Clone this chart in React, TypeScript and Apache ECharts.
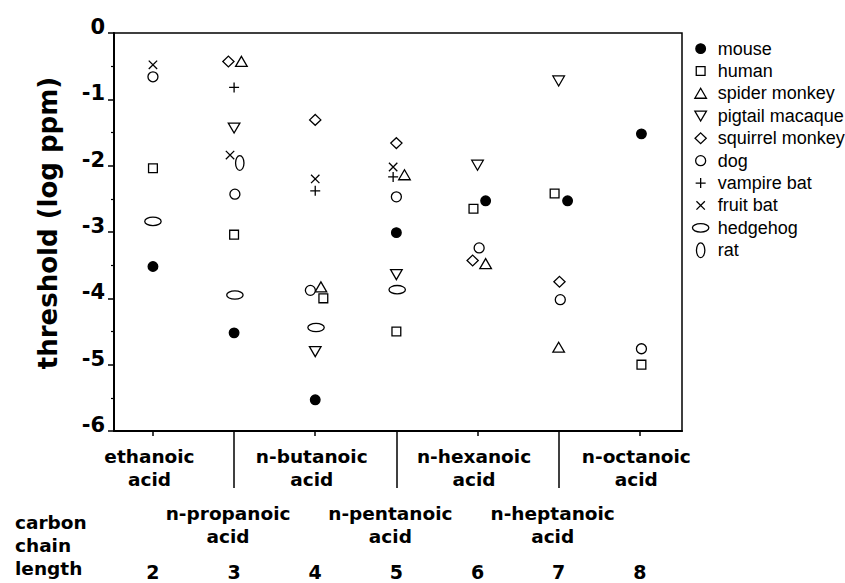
import React, { useEffect, useRef } from 'react';
import * as echarts from 'echarts';

// ---- data ----
const carbonChainLength = [2, 3, 4, 5, 6, 7, 8];
const acidNames = [
  'ethanoic acid',
  'n-propanoic acid',
  'n-butanoic acid',
  'n-pentanoic acid',
  'n-hexanoic acid',
  'n-heptanoic acid',
  'n-octanoic acid',
];
const evenCarbons = [2, 4, 6, 8];
const oddCarbons = [3, 5, 7];

const mouse = [[2, -3.52], [3, -4.52], [4, -5.53], [5, -3.01], [6.1, -2.53], [7.11, -2.53], [8.02, -1.52]];
const human = [[2, -2.04], [3, -3.04], [4.1, -4.0], [5, -4.5], [5.95, -2.65], [6.95, -2.42], [8.02, -5.0]];
const spiderMonkey = [[3.09, -0.43], [4.07, -3.83], [5.1, -2.14], [6.1, -3.48], [7, -4.74]];
const pigtailMacaque = [[3, -1.43], [4, -4.8], [5, -3.64], [6, -1.99], [7, -0.72]];
const squirrelMonkey = [[2.93, -0.43], [4, -1.31], [5, -1.66], [5.94, -3.43], [7.01, -3.75]];
const dog = [[2, -0.66], [3.01, -2.43], [3.94, -3.88], [5, -2.47], [6.02, -3.24], [7.02, -4.02], [8.02, -4.76]];
const vampireBat = [[3, -0.82], [4, -2.38], [4.96, -2.17]];
const fruitBat = [[2, -0.48], [2.95, -1.84], [4, -2.2], [4.96, -2.02]];
const hedgehog = [[2, -2.84], [3.01, -3.95], [4.01, -4.44], [5.01, -3.87]];
const rat = [[3.07, -1.96]];

// ---- symbols (drawn in a 20x20 box so sizes stay consistent) ----
const BOX = 'M0,0 M20,20 ';
const SYM = {
  filledCircle: 'path://' + BOX + 'M5.2,10 A4.8,4.8 0 1,1 14.8,10 A4.8,4.8 0 1,1 5.2,10 Z',
  square: 'path://' + BOX + 'M5.6,5.6 L14.4,5.6 L14.4,14.4 L5.6,14.4 Z',
  triUp: 'path://' + BOX + 'M10,4.8 L15.8,14.8 L4.2,14.8 Z',
  triDown: 'path://' + BOX + 'M4.2,5.2 L15.8,5.2 L10,15.2 Z',
  diamond: 'path://' + BOX + 'M10,4.6 L15.6,10 L10,15.4 L4.4,10 Z',
  circle: 'path://' + BOX + 'M5,10 A5,5 0 1,1 15,10 A5,5 0 1,1 5,10 Z',
  plus: 'path://' + BOX + 'M5,10 L15,10 M10,5 L10,15',
  cross: 'path://' + BOX + 'M5.8,5.8 L14.2,14.2 M14.2,5.8 L5.8,14.2',
  hEllipse: 'path://' + BOX + 'M1.8,10 A8.2,4.2 0 1,1 18.2,10 A8.2,4.2 0 1,1 1.8,10 Z',
  vEllipse: 'path://' + BOX + 'M5.8,10 A4.2,7.4 0 1,1 14.2,10 A4.2,7.4 0 1,1 5.8,10 Z',
};

const BOLD = 'DejaVu Sans';

const speciesSeries = [
  { name: 'mouse', data: mouse, symbol: SYM.filledCircle, fill: '#000' },
  { name: 'human', data: human, symbol: SYM.square, fill: '#fff' },
  { name: 'spider monkey', data: spiderMonkey, symbol: SYM.triUp, fill: '#fff' },
  { name: 'pigtail macaque', data: pigtailMacaque, symbol: SYM.triDown, fill: '#fff' },
  { name: 'squirrel monkey', data: squirrelMonkey, symbol: SYM.diamond, fill: '#fff' },
  { name: 'dog', data: dog, symbol: SYM.circle, fill: '#fff' },
  { name: 'vampire bat', data: vampireBat, symbol: SYM.plus, fill: '#fff' },
  { name: 'fruit bat', data: fruitBat, symbol: SYM.cross, fill: '#fff' },
  { name: 'hedgehog', data: hedgehog, symbol: SYM.hEllipse, fill: '#fff' },
  { name: 'rat', data: rat, symbol: SYM.vEllipse, fill: '#fff' },
];

const acidLabel = (v: number) => {
  const i = carbonChainLength.indexOf(Math.round(v));
  return i >= 0 ? acidNames[i].replace(' ', '\n') : '';
};

const X_MIN = 1.52;
const X_MAX = 8.52;

const option: any = {
  animation: false,
  grid: {
    left: 114,
    right: 163,
    top: 33,
    bottom: 151,
    show: true,
    borderColor: '#000',
    borderWidth: 1.5,
    backgroundColor: 'transparent',
  },
  title: {
    text: 'carbon\nchain\nlength',
    left: 15,
    top: 511,
    padding: 0,
    textStyle: { fontFamily: BOLD, fontWeight: 'bold', fontSize: 18.5, lineHeight: 23, color: '#000' },
  },
  legend: {
    orient: 'vertical',
    left: 690,
    top: 38,
    padding: 0,
    itemWidth: 20,
    itemHeight: 20,
    itemGap: 1.1,
    selectedMode: false,
    itemStyle: { borderWidth: 1.3 },
    textStyle: { fontFamily: 'Liberation Sans', fontSize: 18, color: '#000', lineHeight: 20, padding: [0, 0, 0, 2] },
    data: speciesSeries.map((s) => s.name),
  },
  xAxis: [
    {
      type: 'value',
      min: X_MIN,
      max: X_MAX,
      position: 'bottom',
      axisLine: { show: true, onZero: false, lineStyle: { color: '#000', width: 2 } },
      axisTick: { show: true, customValues: evenCarbons, length: 5, lineStyle: { color: '#000', width: 1.5 } },
      axisLabel: {
        customValues: evenCarbons,
        formatter: acidLabel,
        margin: 14,
        padding: [0, 7, 0, 0],
        fontFamily: BOLD,
        fontWeight: 'bold',
        fontSize: 18.5,
        lineHeight: 23,
        color: '#000',
      },
      splitLine: { show: false },
    },
    {
      type: 'value',
      min: X_MIN,
      max: X_MAX,
      position: 'bottom',
      axisLine: { show: false, onZero: false },
      axisTick: { show: true, customValues: oddCarbons, length: 57, lineStyle: { color: '#000', width: 1.5 } },
      axisLabel: {
        customValues: oddCarbons,
        formatter: acidLabel,
        margin: 70.5,
        padding: [0, 12, 0, 0],
        fontFamily: BOLD,
        fontWeight: 'bold',
        fontSize: 18.5,
        lineHeight: 23,
        color: '#000',
      },
      splitLine: { show: false },
    },
    {
      type: 'value',
      min: X_MIN,
      max: X_MAX,
      position: 'bottom',
      axisLine: { show: false, onZero: false },
      axisTick: { show: false },
      axisLabel: {
        customValues: carbonChainLength,
        margin: 130,
        fontFamily: BOLD,
        fontWeight: 'bold',
        fontSize: 19,
        lineHeight: 22,
        color: '#000',
      },
      splitLine: { show: false },
    },
  ],
  yAxis: {
    type: 'value',
    min: -6,
    max: 0,
    interval: 1,
    name: 'threshold (log ppm)',
    nameLocation: 'middle',
    nameGap: 51,
    nameTextStyle: {
      fontFamily: BOLD,
      fontWeight: 'bold',
      fontSize: 26,
      lineHeight: 30,
      color: '#000',
      padding: [0, 0, 0, 18],
    },
    axisLine: { show: true, onZero: false, lineStyle: { color: '#000', width: 2 } },
    axisTick: { show: true, length: 6, lineStyle: { color: '#000', width: 1.5 } },
    minorTick: { show: true, splitNumber: 2, length: 3, lineStyle: { color: '#000', width: 1.2 } },
    axisLabel: {
      margin: 9,
      verticalAlign: 'bottom',
      lineHeight: 12,
      fontFamily: BOLD,
      fontWeight: 'bold',
      fontSize: 21,
      color: '#000',
    },
    splitLine: { show: false },
    minorSplitLine: { show: false },
  },
  series: speciesSeries.map((s) => ({
    type: 'scatter',
    name: s.name,
    data: s.data,
    xAxisIndex: 0,
    yAxisIndex: 0,
    symbol: s.symbol,
    symbolSize: 20,
    itemStyle: { color: s.fill, borderColor: '#000', borderWidth: 1.3, opacity: 1 },
    emphasis: { disabled: true },
  })),
};

export default function App() {
  const ref = useRef<HTMLDivElement>(null);
  useEffect(() => {
    const chart = echarts.init(ref.current!, null, { renderer: 'svg' });
    chart.setOption(option);
    return () => chart.dispose();
  }, []);
  return (
    <div
      ref={ref}
      style={{ position: 'absolute', left: 0, top: 0, width: 845, height: 583, background: '#fff' }}
    />
  );
}
